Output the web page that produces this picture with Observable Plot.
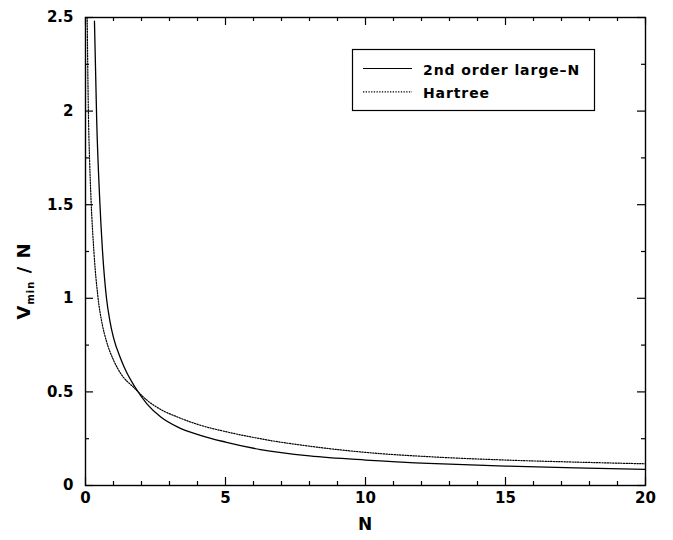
<!DOCTYPE html>
<html><head><meta charset="utf-8">
<script src="https://cdn.jsdelivr.net/npm/d3@7"></script>
<script src="https://cdn.jsdelivr.net/npm/@observablehq/plot@0.6"></script>
<style>body{margin:0;background:#fff} svg{display:block}</style>
</head><body><div id="chart"></div>
<script>
// Data
const largeN_N = [0.32, 0.4, 0.51, 0.6, 0.75, 0.87, 1.0, 1.25, 1.45, 1.75, 2.2, 2.7, 3.3, 4.1, 5, 6.25, 8, 10, 12.5, 15, 17.5, 20];
const largeN_V = [2.48, 1.95, 1.52, 1.27, 1.0, 0.88, 0.79, 0.68, 0.61, 0.53, 0.435, 0.365, 0.312, 0.268, 0.232, 0.192, 0.158, 0.136, 0.117, 0.104, 0.094, 0.086];
const hartree_N = [0.06, 0.1, 0.15, 0.2, 0.3, 0.45, 0.6, 0.75, 1.0, 1.25, 1.75, 2.2, 2.7, 3.3, 4.1, 5, 6.5, 8, 10, 12.5, 15, 17.5, 20];
const hartree_V = [2.5, 2.02, 1.72, 1.52, 1.25, 1.0, 0.86, 0.77, 0.67, 0.6, 0.52, 0.455, 0.405, 0.365, 0.322, 0.288, 0.243, 0.21, 0.177, 0.152, 0.136, 0.125, 0.116];
const seriesNames = ["2nd order large\u2013N", "Hartree"];
const xMajor = [0, 5, 10, 15, 20];
const xMinor = d3.range(1, 20).filter(d => d % 5 !== 0);
const yMajor = [0, 0.5, 1, 1.5, 2, 2.5];
const yMinor = [0.25, 0.75, 1.25, 1.75, 2.25];
const xLabel = "N";

const largeN = largeN_N.map((n, i) => ({N: n, V: largeN_V[i]}));
const hartree = hartree_N.map((n, i) => ({N: n, V: hartree_V[i]}));

const W = 673, H = 540, mL = 85, mR = 28, mT = 17, mB = 55;
const iw = W - mL - mR, ih = H - mT - mB;
const tk = {stroke: "black", strokeWidth: 1.2};

const svg = Plot.plot({
  width: W, height: H,
  marginLeft: mL, marginRight: mR, marginTop: mT, marginBottom: mB,
  x: {domain: [0, 20]},
  y: {domain: [0, 2.5]},
  style: {fontFamily: "DejaVu Sans", fontSize: "15px", fontWeight: "bold", color: "black", background: "white"},
  marks: [
    Plot.line(hartree, {x: "N", y: "V", stroke: "black", strokeWidth: 1.2, strokeDasharray: "1.3 1.4", curve: "monotone-x", clip: true}),
    Plot.line(largeN, {x: "N", y: "V", stroke: "black", strokeWidth: 1.3, curve: "monotone-x", clip: true}),
    // inward ticks on all four sides
    Plot.tickX(xMajor, {x: d => d, insetTop: ih - 8, ...tk}),
    Plot.tickX(xMinor, {x: d => d, insetTop: ih - 4, ...tk}),
    Plot.tickX(xMajor, {x: d => d, insetBottom: ih - 8, ...tk}),
    Plot.tickX(xMinor, {x: d => d, insetBottom: ih - 4, ...tk}),
    Plot.tickY(yMajor, {y: d => d, insetRight: iw - 8, ...tk}),
    Plot.tickY(yMinor, {y: d => d, insetRight: iw - 4, ...tk}),
    Plot.tickY(yMajor, {y: d => d, insetLeft: iw - 8, ...tk}),
    Plot.tickY(yMinor, {y: d => d, insetLeft: iw - 4, ...tk}),
    Plot.frame({stroke: "black", strokeWidth: 1.4}),
    Plot.axisX({ticks: xMajor, tickSize: 0, tickPadding: 7, label: null, tickFormat: d => String(d)}),
    Plot.axisY({ticks: yMajor, tickSize: 0, tickPadding: 12, label: null, tickFormat: d => String(d)})
  ]
});
document.getElementById("chart").appendChild(svg);

const s = d3.select(svg);
// x axis label
s.append("text").attr("x", mL + iw / 2).attr("y", 530).attr("text-anchor", "middle")
  .attr("font-size", 17).attr("font-weight", "bold").attr("fill", "black").text(xLabel);
// y axis label with subscript
const yl = s.append("text").attr("transform", "translate(30,281) rotate(-90)").attr("text-anchor", "middle")
  .attr("font-weight", "bold").attr("fill", "black").attr("letter-spacing", 1);
yl.append("tspan").attr("font-size", 18).text("V");
yl.append("tspan").attr("font-size", 10).attr("dy", 4).text("min");
yl.append("tspan").attr("font-size", 18).attr("dy", -4).text(" / N");

// legend
const lg = s.append("g");
lg.append("rect").attr("x", 352.5).attr("y", 49.5).attr("width", 242).attr("height", 61)
  .attr("fill", "white").attr("stroke", "black").attr("stroke-width", 1.2);
const dashes = [null, "1.3 1.4"];
seriesNames.forEach((name, i) => {
  const y = 68.5 + i * 23.3;
  lg.append("line").attr("x1", 363).attr("x2", 412).attr("y1", y).attr("y2", y)
    .attr("stroke", "black").attr("stroke-width", 1.2).attr("stroke-dasharray", dashes[i]);
  lg.append("text").attr("x", 423).attr("y", y + 6).attr("text-anchor", "start")
    .attr("font-size", 14).attr("font-weight", "bold")
    .attr("letter-spacing", 0.9).attr("fill", "black").text(name);
});
</script>
</body></html>
